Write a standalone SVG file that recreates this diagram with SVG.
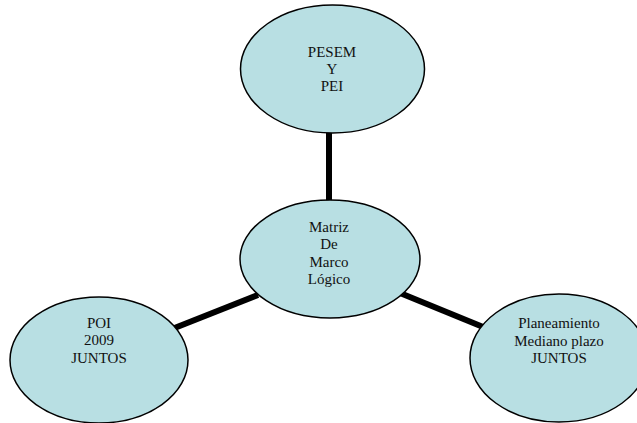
<svg xmlns="http://www.w3.org/2000/svg" width="637" height="423" viewBox="0 0 637 423">
<style>
.n{fill:#b8dfe3;stroke:#000;stroke-width:1.5}
.t{font-family:"Liberation Serif","Times New Roman",serif;font-size:15px;fill:#111;text-anchor:middle}
.c{stroke:#000;stroke-width:6;fill:none}
</style>
<rect width="637" height="423" fill="#fff"/>
<g id="connectors">
<line class="c" x1="329" y1="130" x2="329" y2="203"/>
<line class="c" x1="172" y1="329" x2="258" y2="295"/>
<line class="c" x1="400" y1="293" x2="488" y2="329"/>
</g>
<g id="pesem">
<ellipse class="n" cx="332.5" cy="69" rx="92" ry="64"/>
<text class="t" x="332" y="57">PESEM</text>
<text class="t" x="332" y="74">Y</text>
<text class="t" x="332" y="91">PEI</text>
</g>
<g id="matriz">
<ellipse class="n" cx="330" cy="259" rx="90" ry="59"/>
<text class="t" x="329" y="232">Matriz</text>
<text class="t" x="329" y="249">De</text>
<text class="t" x="329" y="267">Marco</text>
<text class="t" x="329" y="284">Lógico</text>
</g>
<g id="poi">
<ellipse class="n" cx="99" cy="360" rx="89" ry="63"/>
<text class="t" x="99" y="328">POI</text>
<text class="t" x="99" y="345">2009</text>
<text class="t" x="99" y="363">JUNTOS</text>
</g>
<g id="planeamiento">
<ellipse class="n" cx="559" cy="358" rx="89" ry="64"/>
<text class="t" x="559" y="328">Planeamiento</text>
<text class="t" x="559" y="346">Mediano plazo</text>
<text class="t" x="559" y="363">JUNTOS</text>
</g>
</svg>
